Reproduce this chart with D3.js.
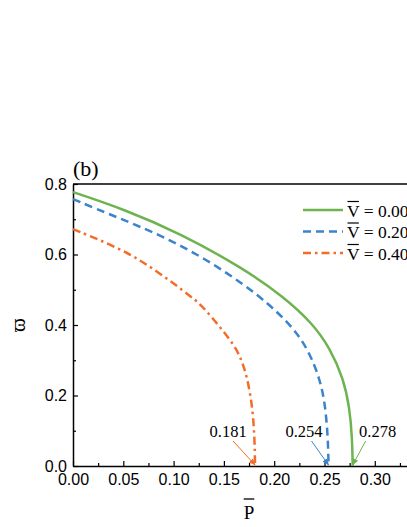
<!DOCTYPE html>
<html>
<head>
<meta charset="utf-8">
<script src="https://cdn.jsdelivr.net/npm/d3@7"></script>
<style>
  body { margin: 0; background: #fff; }
  svg { display: block; }
  .tick text { font-family: Arial, "Liberation Sans", sans-serif; font-size: 16px; fill: #000; }
  .serif { font-family: "Times New Roman", "Liberation Serif", serif; fill: #000; }
</style>
</head>
<body>
<svg id="chart" width="407" height="527"></svg>
<script>
// values
var legendLabels = ['0.00', '0.20', '0.40']
var critP = [0.278, 0.254, 0.181]
var critLabels = ['0.278', '0.254', '0.181']
var colors = ['#6db350', '#3b84cc', '#f46d28']

var pV0 = [0, 0.050, 0.1066, 0.169, 0.2095, 0.238, 0.2555, 0.2687, 0.275, 0.2775, 0.278]
var wV0 = [0.777, 0.729, 0.660, 0.561, 0.480, 0.405, 0.334, 0.249, 0.165, 0.08, 0]
var pV2 = [0, 0.046, 0.1064, 0.173, 0.2146, 0.2333, 0.2452, 0.2505, 0.2535, 0.254]
var wV2 = [0.757, 0.703, 0.632, 0.513, 0.409, 0.334, 0.249, 0.179, 0.08, 0]
var pV4 = [0, 0.0491, 0.0821, 0.1197, 0.1306, 0.1584, 0.1664, 0.1732, 0.1785, 0.1805, 0.181]
var wV4 = [0.672, 0.615, 0.556, 0.476, 0.448, 0.352, 0.310, 0.253, 0.165, 0.08, 0]

var xTicks = [0, 0.05, 0.10, 0.15, 0.20, 0.25, 0.30]
var yTicks = [0, 0.2, 0.4, 0.6, 0.8]

var series = [
    {label: legendLabels[0], p: pV0, w: wV0, dash: null},
    {label: legendLabels[1], p: pV2, w: wV2, dash: '8,5'},
    {label: legendLabels[2], p: pV4, w: wV4, dash: '8,4,2.5,4'}
]

var svg = d3.select('#chart')
var g = svg.append('g')

var xs = d3.scaleLinear().domain([0, 0.335]).range([73, 410])
var ys = d3.scaleLinear().domain([0, 0.8]).range([466, 184])

// minor ticks first
g.append('g').attr('transform', `translate(0,${ys(0)})`)
    .call(d3.axisBottom(xs).tickValues(d3.range(0.025, 0.34, 0.05)).tickSize(-3).tickSizeOuter(0).tickFormat(''))
    .call(a => a.select('.domain').remove())
g.append('g').attr('transform', `translate(${xs(0)},0)`)
    .call(d3.axisLeft(ys).tickValues([0.1, 0.3, 0.5, 0.7]).tickSize(-3).tickSizeOuter(0).tickFormat(''))
    .call(a => a.select('.domain').remove())

var xAxis = g.append('g').attr('transform', `translate(0,${ys(0)})`)
    .call(d3.axisBottom(xs).tickValues(xTicks).tickSize(-5).tickSizeOuter(0).tickPadding(8).tickFormat(d3.format('.2f')))
var yAxis = g.append('g').attr('transform', `translate(${xs(0)},0)`)
    .call(d3.axisLeft(ys).tickValues(yTicks).tickSize(-5).tickSizeOuter(0).tickPadding(6).tickFormat(d3.format('.1f')))

g.selectAll('.domain').style('stroke', '#000').style('stroke-width', 1.5)
g.selectAll('.tick line').style('stroke', '#000').style('stroke-width', 1.2)

// top frame line
g.append('line')
    .attr('x1', xs(0)).attr('x2', xs(0.335))
    .attr('y1', ys(0.8)).attr('y2', ys(0.8))
    .style('stroke', '#000').style('stroke-width', 1.5)

// curves
var line = d3.line()
    .x(d => xs(d[0]))
    .y(d => ys(d[1]))
    .curve(d3.curveBasis)

series.forEach((s, i) => {
    var pts = s.p.map((p, j) => [p, s.w[j]])
    g.append('path')
        .attr('d', line(pts))
        .style('fill', 'none')
        .style('stroke', colors[i])
        .style('stroke-width', 2.5)
        .style('stroke-dasharray', s.dash)
})

// arrow markers
var defs = svg.append('defs')
colors.forEach((c, i) => {
    defs.append('marker')
        .attr('id', 'arr' + i)
        .attr('viewBox', '0 0 10 10')
        .attr('refX', 9).attr('refY', 5)
        .attr('markerWidth', 7).attr('markerHeight', 7)
        .attr('markerUnits', 'userSpaceOnUse')
        .attr('orient', 'auto')
        .append('path').attr('d', 'M0,1 L10,5 L0,9 Z').style('fill', c)
})

// critical point annotations
var annoOff = [{dx: 13, lx: 25}, {dx: -17, lx: -24.5}, {dx: -22, lx: -27}]
critP.forEach((p, i) => {
    var tx = xs(p), ty = ys(0)
    g.append('line')
        .attr('x1', tx + annoOff[i].dx).attr('y1', ty - 25)
        .attr('x2', tx).attr('y2', ty - 1)
        .style('stroke', colors[i]).style('stroke-width', 1)
        .attr('marker-end', 'url(#arr' + i + ')')
    g.append('text').attr('class', 'serif')
        .attr('x', tx + annoOff[i].lx).attr('y', 437)
        .attr('text-anchor', 'middle')
        .style('font-size', '16.5px')
        .text(critLabels[i])
})

// legend
var legend = g.append('g')
var rowY = [210, 231.5, 253]
series.forEach((s, i) => {
    legend.append('line')
        .attr('x1', 303).attr('x2', 343)
        .attr('y1', rowY[i]).attr('y2', rowY[i])
        .style('stroke', colors[i]).style('stroke-width', 2.5)
        .style('stroke-dasharray', s.dash)
    var t = legend.append('text').attr('class', 'serif')
        .attr('x', 347).attr('y', rowY[i] + 6.5)
        .style('font-size', '17.5px')
    t.append('tspan').text('V')
    t.append('tspan').text(' = ' + s.label)
    var vw = t.select('tspan').node().getComputedTextLength()
    legend.append('line')
        .attr('x1', 347.5).attr('x2', 347 + vw - 0.5)
        .attr('y1', rowY[i] - 8.5).attr('y2', rowY[i] - 8.5)
        .style('stroke', '#000').style('stroke-width', 1.2)
})

// panel label
g.append('text').attr('class', 'serif')
    .attr('x', 73).attr('y', 176)
    .style('font-size', '22px')
    .text('(b)')

// axis titles
var xt = g.append('text').attr('class', 'serif')
    .attr('x', 249).attr('y', 519)
    .attr('text-anchor', 'middle')
    .style('font-size', '19px')
    .text('P')
var pw = xt.node().getComputedTextLength()
g.append('line')
    .attr('x1', 249 - pw / 2).attr('x2', 249 + pw / 2)
    .attr('y1', 499).attr('y2', 499)
    .style('stroke', '#000').style('stroke-width', 1.3)

g.append('text').attr('class', 'serif')
    .attr('transform', 'translate(25,325) rotate(-90)')
    .attr('text-anchor', 'middle')
    .style('font-size', '21px')
    .text('\u03D6')
</script>
</body>
</html>
